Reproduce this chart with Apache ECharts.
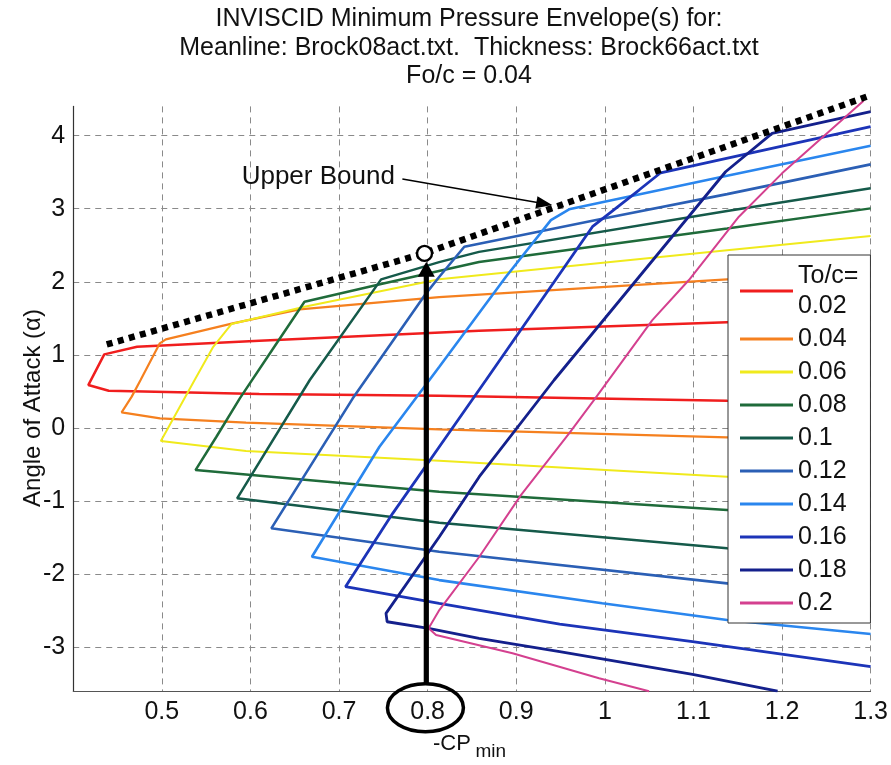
<!DOCTYPE html>
<html>
<head>
<meta charset="utf-8">
<script src="https://cdn.jsdelivr.net/npm/echarts@6/dist/echarts.min.js"></script>
<style>
  html, body { margin: 0; padding: 0; background: #ffffff; }
  #chart { width: 891px; height: 765px; }
</style>
</head>
<body>
<div id="chart"></div>
<script>
// Section thickness ratios (To/c), one envelope per value
const thicknessLabels = ['0.02', '0.04', '0.06', '0.08', '0.1', '0.12', '0.14', '0.16', '0.18', '0.2'];

// Each envelope: -CPmin (cp) and angle of attack (aoa), traced from the right end of the
// lower (face) branch, round the leading corner, then out along the upper (back) branch.
const cp002  = [1.30, 1.138, 0.813, 0.61, 0.44, 0.417, 0.435, 0.472, 0.61, 0.858, 1.138, 1.30];
const aoa002 = [0.34, 0.373, 0.442, 0.465, 0.51, 0.588, 1.008, 1.112, 1.194, 1.331, 1.446, 1.51];

const cp004  = [1.30, 1.138, 0.813, 0.595, 0.498, 0.4546, 0.466, 0.476, 0.4977, 0.5045, 0.580, 0.6555, 0.813, 1.138, 1.30];
const aoa004 = [-0.18, -0.127, -0.018, 0.073, 0.133, 0.215, 0.43, 0.657, 1.159, 1.213, 1.432, 1.624, 1.79, 2.034, 2.13];

const cp006  = [1.30, 1.138, 0.813, 0.595, 0.4989, 0.5203, 0.537, 0.558, 0.5785, 0.661, 0.813, 1.138, 1.30];
const aoa006 = [-0.78, -0.666, -0.447, -0.315, -0.178, 0.291, 0.657, 1.112, 1.423, 1.659, 2.034, 2.431, 2.627];

const cp008  = [1.30, 1.138, 0.813, 0.538, 0.5616, 0.588, 0.6245, 0.661, 0.7475, 0.858, 1.138, 1.30];
const aoa008 = [-1.25, -1.122, -0.871, -0.575, -0.119, 0.406, 1.067, 1.728, 1.97, 2.271, 2.73, 3.005];

const cp010  = [1.30, 1.138, 0.813, 0.585, 0.667, 0.7475, 0.813, 0.858, 1.138, 1.30];
const aoa010 = [-1.82, -1.646, -1.295, -0.962, 0.657, 2.034, 2.27, 2.41, 2.97, 3.279];

const cp012  = [1.30, 1.138, 0.813, 0.6236, 0.7155, 0.7983, 0.8132, 0.8414, 1.0, 1.138, 1.30];
const aoa012 = [-2.34, -2.125, -1.692, -1.372, 0.406, 1.843, 2.07, 2.48, 2.87, 3.2, 3.607];

const cp014  = [1.30, 1.138, 0.997, 0.813, 0.6694, 0.7456, 0.8132, 0.8884, 0.9391, 0.9597, 1.138, 1.30];
const aoa014 = [-2.818, -2.626, -2.398, -2.08, -1.761, -0.256, 0.838, 2.07, 2.845, 2.992, 3.45, 3.862];

const cp016  = [1.30, 1.099, 0.949, 0.813, 0.7073, 0.7606, 0.8132, 0.8659, 0.986, 1.0386, 1.063, 1.30];
const aoa016 = [-3.265, -2.923, -2.681, -2.398, -2.171, -1.167, -0.256, 0.657, 2.754, 3.256, 3.492, 4.122];

const cp018  = [1.195, 1.099, 0.949, 0.858, 0.801, 0.7543, 0.753, 0.8132, 0.8583, 0.9428, 1.1363, 1.1888, 1.30];
const aoa018 = [-3.60, -3.37, -3.06, -2.877, -2.74, -2.65, -2.535, -1.487, -0.666, 0.657, 3.506, 4.031, 4.327];

const cp020  = [1.05, 0.9935, 0.8958, 0.8095, 0.8011, 0.8132, 0.8583, 0.9053, 0.9597, 0.9898, 1.0536, 1.0949, 1.1513, 1.2, 1.2921];
const aoa020 = [-3.60, -3.424, -3.082, -2.832, -2.74, -2.49, -1.761, -0.917, -0.073, 0.417, 1.477, 2.025, 2.891, 3.484, 4.477];

// Upper bound of all envelopes; its middle vertex is the chosen design point
const cpBound  = [0.4378, 0.7965, 1.3008];
const aoaBound = [1.143, 2.390, 4.555];

// Axis tick values
const cpTicks  = [0.5, 0.6, 0.7, 0.8, 0.9, 1.0, 1.1, 1.2, 1.3];
const aoaTicks = [-3, -2, -1, 0, 1, 2, 3, 4];

const cpSets  = [cp002, cp004, cp006, cp008, cp010, cp012, cp014, cp016, cp018, cp020];
const aoaSets = [aoa002, aoa004, aoa006, aoa008, aoa010, aoa012, aoa014, aoa016, aoa018, aoa020];

// Line styling per thickness
const lineColors = ['#f01e1e', '#f5801f', '#f0ea1c', '#1f6b3a', '#155a4a',
                    '#2b5fb5', '#2a86ee', '#1c34b8', '#14208c', '#d4408f'];
const lineWidths = [2.5, 2.2, 2, 2.5, 2.5, 2.6, 2.6, 2.8, 2.8, 2];

const FONT = 'Liberation Sans, Arial, Helvetica, sans-serif';
const toPairs = (xs, ys) => xs.map((x, i) => [x, ys[i]]);

const envelopeSeries = thicknessLabels.map((name, k) => ({
  name: name,
  type: 'line',
  data: toPairs(cpSets[k], aoaSets[k]),
  symbol: 'none',
  color: lineColors[k],
  lineStyle: { color: lineColors[k], width: lineWidths[k] },
  clip: name !== '0.2',
  z: 2 + k * 0.01,
  animation: false
}));

const boundSeries = {
  name: 'Upper Bound',
  type: 'line',
  data: toPairs(cpBound, aoaBound),
  symbol: 'none',
  lineStyle: { color: '#000', width: 6.5, type: [6, 5.5], cap: 'butt' },
  clip: false,
  silent: true,
  z: 5,
  animation: false
};

const gridLine = { show: true, lineStyle: { color: '#8a8a8a', width: 1, type: [6, 5] } };

const chart = echarts.init(document.getElementById('chart'), null, { renderer: 'canvas', width: 891, height: 765 });

chart.setOption({
  animation: false,
  backgroundColor: '#ffffff',
  title: {
    text: 'INVISCID Minimum Pressure Envelope(s) for:\nMeanline: Brock08act.txt.  Thickness: Brock66act.txt\nFo/c = 0.04',
    left: 469,
    top: 5,
    padding: 0,
    textAlign: 'center',
    textStyle: { fontFamily: FONT, fontSize: 25, fontWeight: 'normal', color: '#111', lineHeight: 28.5 }
  },
  grid: { left: 73.25, right: 18.75, top: 106.4, bottom: 73.8, containLabel: false },
  xAxis: {
    type: 'value',
    min: 0.4,
    max: 1.3,
    axisLine: { show: true, onZero: false, lineStyle: { color: '#555', width: 1 } },
    axisTick: { show: false, customValues: cpTicks },
    splitLine: gridLine,
    axisLabel: {
      customValues: cpTicks,
      formatter: v => String(+v.toFixed(1)),
      fontFamily: FONT, fontSize: 25, color: '#111', margin: 8
    }
  },
  yAxis: {
    type: 'value',
    min: -3.6,
    max: 4.4,
    axisLine: { show: true, onZero: false, lineStyle: { color: '#333', width: 1.2 } },
    axisTick: { show: false, customValues: aoaTicks },
    splitLine: gridLine,
    axisLabel: {
      customValues: aoaTicks,
      formatter: v => String(Math.round(v)),
      fontFamily: FONT, fontSize: 25, color: '#111', margin: 8
    }
  },
  legend: {
    data: thicknessLabels,
    orient: 'vertical',
    left: 728,
    top: 255,
    padding: [6, 12, 5, 12],
    itemGap: 3,
    itemWidth: 53,
    itemHeight: 3,
    icon: 'rect',
    backgroundColor: '#ffffff',
    borderColor: '#333',
    borderWidth: 1,
    borderRadius: 0,
    formatter: name => (name === '0.02' ? 'To/c=\n0.02' : name),
    textStyle: { fontFamily: FONT, fontSize: 25, color: '#111', lineHeight: 30 },
    z: 20
  },
  series: envelopeSeries.concat([boundSeries])
});

// Annotations: label + pointer to the bound, the design point, and the arrow down to -CPmin
function px(x, y) { return chart.convertToPixel({ gridIndex: 0 }, [x, y]); }

function arrow(tail, tip, shaftWidth, headLen, headHalf) {
  const dx = tip[0] - tail[0], dy = tip[1] - tail[1];
  const len = Math.hypot(dx, dy);
  const ux = dx / len, uy = dy / len;
  const bx = tip[0] - ux * headLen, by = tip[1] - uy * headLen;
  const nx = -uy, ny = ux;
  return [
    { type: 'line', z: 100, shape: { x1: tail[0], y1: tail[1], x2: bx + ux, y2: by + uy },
      style: { stroke: '#000', lineWidth: shaftWidth } },
    { type: 'polygon', z: 100,
      shape: { points: [tip, [bx + nx * headHalf, by + ny * headHalf], [bx - nx * headHalf, by - ny * headHalf]] },
      style: { fill: '#000' } }
  ];
}

const designPt = px(cpBound[1], aoaBound[1]);
const labelPt = px(0.5901, 3.434);
const pointerTail = px(0.7715, 3.406);
const pointerTip = px(0.9406, 3.051);
const ringCentre = px(0.7975, -3.826);
const riserBottom = px(0.7985, -3.488);
const riserTip = [riserBottom[0], designPt[1] + 8.5];

const graphics = [
  { type: 'text', z: 100, x: labelPt[0], y: labelPt[1],
    style: { text: 'Upper Bound', font: '26px ' + FONT, fill: '#111', align: 'left', verticalAlign: 'middle' } },
  ...arrow(pointerTail, pointerTip, 1.6, 16, 6),
  ...arrow([riserBottom[0], riserBottom[1]], riserTip, 5.2, 15, 8.5),
  { type: 'circle', z: 101, shape: { cx: designPt[0], cy: designPt[1], r: 7.5 },
    style: { fill: '#fff', stroke: '#000', lineWidth: 2.4 } },
  { type: 'ellipse', z: 100, shape: { cx: ringCentre[0], cy: ringCentre[1], rx: 38, ry: 24 },
    style: { fill: 'none', stroke: '#000', lineWidth: 3.5 } },
  { type: 'text', z: 100, x: 433, y: 744,
    style: { text: '-CP', font: '22px ' + FONT, fill: '#111', align: 'left', verticalAlign: 'middle' } },
  { type: 'text', z: 100, x: 475.5, y: 752,
    style: { text: 'min', font: '19px ' + FONT, fill: '#111', align: 'left', verticalAlign: 'middle' } },
  { type: 'text', z: 100, x: 33, y: 408, rotation: Math.PI / 2,
    style: { text: 'Angle of Attack (α)', font: '24px ' + FONT, fill: '#111', align: 'center', verticalAlign: 'middle' } }
];

chart.setOption({ graphic: { elements: graphics } });
</script>
</body>
</html>
